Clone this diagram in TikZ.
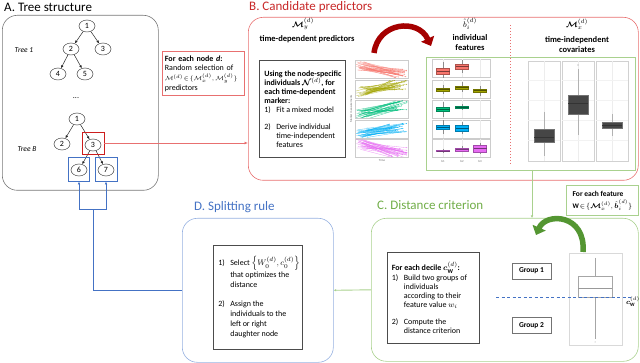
\documentclass[tikz,border=0pt]{standalone}
\usepackage{amsmath}
\usepackage{fontspec}
\setmainfont{Carlito}
\usetikzlibrary{arrows.meta,shapes.geometric}
\definecolor{boxgray}{RGB}{120,120,120}
\definecolor{boxred}{RGB}{232,112,112}
\definecolor{strongred}{RGB}{205,30,30}
\definecolor{titlered}{RGB}{200,40,40}
\definecolor{arrowred}{RGB}{165,0,0}
\definecolor{titlegreen}{RGB}{112,173,71}
\definecolor{boxgreen}{RGB}{169,209,142}
\definecolor{arrowgreen}{RGB}{84,150,50}
\definecolor{titleblue}{RGB}{68,114,196}
\definecolor{boxblue}{RGB}{150,177,225}
\definecolor{lineblue}{RGB}{68,114,196}
\definecolor{gA}{HTML}{F8766D}
\definecolor{gB}{HTML}{A3A500}
\definecolor{gC}{HTML}{00BF7D}
\definecolor{gD}{HTML}{00B0F6}
\definecolor{gE}{HTML}{E76BF3}
\definecolor{darkbox}{RGB}{70,70,70}
\newcommand{\numi}[1]{\makebox[1.5em][l]{#1}}
\newcommand{\hangi}{\hspace*{1.5em}}
\begin{document}
\begin{tikzpicture}[x=1pt,y=-1pt,
  title/.style={font=\fontsize{13}{15}\selectfont, anchor=base west, inner sep=0},
  tnode/.style={ellipse, draw=black!75, line width=0.5pt, minimum width=16pt, minimum height=12pt, inner sep=0, font=\fontsize{8}{9}\selectfont},
  tarrow/.style={draw=black!85, line width=0.5pt, -{Latex[length=3pt,width=2.6pt]}},
  panel/.style={rounded corners=15pt, line width=0.6pt, minimum width=#1, inner sep=0, anchor=north west},
  textbox/.style={draw=black!70, line width=0.6pt, anchor=north west, inner sep=0, align=left, font=\fontsize{8}{9}\selectfont},
  hdr/.style={font=\fontsize{8.5}{10}\selectfont\bfseries, align=center, inner sep=0},
  grp/.style={draw=black!55, line width=0.8pt, minimum width=39pt, minimum height=16pt, inner sep=0, font=\fontsize{7.5}{8}\selectfont\bfseries},
  tiny/.style={font=\fontsize{3}{3.5}\selectfont, text=black!60, inner sep=0}
]
\useasboundingbox (0,0) rectangle (640,363);

% ---------------- A. Tree structure ----------------
\node[title] (tA) at (4,12) {A. Tree structure};
\node[panel=156pt, draw=boxgray, minimum height=175pt] (Abox) at (2,15) {};
\node[font=\fontsize{7.5}{8}\selectfont\itshape] (lt1) at (24,50) {Tree 1};
\node[font=\fontsize{7.5}{8}\selectfont\itshape] (ltB) at (27,149) {Tree B};
\node[font=\fontsize{8}{8}\selectfont] (dots) at (76,98) {...};

\node[tnode] (a1) at (87,26) {1};
\node[tnode] (a2) at (71,49) {2};
\node[tnode] (a3) at (103,49) {3};
\node[tnode] (a4) at (58,74) {4};
\node[tnode] (a5) at (85,74) {5};
\draw[tarrow] (a1) -- (a2);
\draw[tarrow] (a1) -- (a3);
\draw[tarrow] (a2) -- (a4);
\draw[tarrow] (a2) -- (a5);

\node[tnode] (b1) at (77,119) {1};
\node[tnode] (b2) at (62,144) {2};
\node[tnode] (b3) at (93,145) {3};
\node[tnode] (b6) at (79,170) {6};
\node[tnode] (b7) at (106,170) {7};
\draw[tarrow] (b1) -- (b2);
\draw[tarrow] (b1) -- (b3);
\draw[tarrow] (b3) -- (b6);
\draw[tarrow] (b3) -- (b7);
\node[draw=strongred, line width=0.9pt, minimum width=22pt, minimum height=22pt, inner sep=0] (rb) at (93,143) {};
\node[draw=lineblue, line width=0.9pt, minimum width=21pt, minimum height=24pt, inner sep=0] (bb6) at (79,169) {};
\node[draw=lineblue, line width=0.9pt, minimum width=22pt, minimum height=24pt, inner sep=0] (bb7) at (106,169) {};

\node[draw=boxred, line width=0.8pt, anchor=north west, inner sep=2.5pt, align=left, text width=77pt, minimum height=44pt, font=\fontsize{8}{9.3}\selectfont] (selbox) at (162,51)
 {\textbf{For each node \textit{d}:}\\Random selection of\\[1pt]\mbox{\fontsize{6.5}{7}\selectfont$\mathcal{M}^{(d)}\!\in\!\{\mathcal{M}_x^{(d)},\mathcal{M}_y^{(d)}\}$}\\predictors};

% ---------------- B. Candidate predictors ----------------
\node[title, text=titlered] (tB) at (249,11) {B. Candidate predictors};
\node[panel=390pt, draw=boxred, minimum height=163pt] (Bbox) at (248,17) {};
\draw[boxred, line width=0.8pt, -{Latex[length=3.5pt,width=3pt]}] (rb.east) -- (rb.east -| Bbox.west);

\node[hdr] (hMy) at (303,24) {$\boldsymbol{\mathcal{M}}_y^{(d)}$};
\node[hdr] (hMy2) at (307,39) {time-dependent predictors};
\node[hdr] (hb) at (470,24) {$\hat{b}_i^{(d)}$};
\node[hdr] (hb2) at (470,43) {individual\\features};
\node[hdr] (hMx) at (577,24) {$\boldsymbol{\mathcal{M}}_x^{(d)}$};
\node[hdr] (hMx2) at (577,45) {time-independent\\covariates};
\draw[boxred, line width=0.7pt, dash pattern=on 1.5pt off 1.5pt] (510,25) -- (510,165);

\node[textbox, minimum width=86pt, minimum height=97pt] (tbB) at (259,60)
 {\hspace*{4pt}\begin{minipage}{80pt}\raggedright
 \textbf{Using the node-specific}\\
 \textbf{individuals $\boldsymbol{\mathcal{N}}^{(d)}$, for}\\
 \textbf{each time-dependent}\\
 \textbf{marker:}\\
 \numi{1)}Fit a mixed model\\[8pt]
 \numi{2)}Derive individual\\
 \hangi time-independent\\
 \hangi features
 \end{minipage}};

% curved red arrow
\draw[arrowred, line width=5.5pt, -{Triangle[length=8pt,width=14pt]}] (374,53) .. controls (378,22) and (418,18) .. (431,46);

% spaghetti plots
\pgfmathsetseed{11}
\foreach \tp/\col/\sa/\sb in {60/gA/0.3/0.75, 80/gB/0.65/0.3, 100/gC/0.8/0.3, 120/gD/0.7/0.45, 139/gE/0.3/0.75} {
  \draw[black!20, line width=0.4pt, fill=white] (355,\tp) rectangle (408,\tp+18);
  \begin{scope}
    \clip (355,\tp) rectangle (408,\tp+18);
    \foreach \i in {1,...,28} {
      \pgfmathsetmacro\ya{\tp+18*(\sa+0.28*rand)}
      \pgfmathsetmacro\yb{\tp+18*(\sb+0.28*rand)}
      \pgfmathsetmacro\xa{356+12*rnd}
      \pgfmathsetmacro\xb{407-18*rnd}
      \draw[\col, line width=0.3pt, opacity=0.75] (\xa,\ya) -- (\xb,\yb);
      \fill[\col, opacity=0.8] (\xb,\yb) circle (0.5pt);
    }
  \end{scope}
}
\node[tiny, rotate=90] (ylab) at (351,109) {Marker measurements};
\node[tiny] (xlab) at (382,160) {Time};

% feature and covariate box (green)
\draw[boxgreen, line width=0.9pt] (426,57) rectangle (635,170);

% individual feature boxplots
\foreach \tp in {59,80,100,120,139} {
  \draw[black!20, line width=0.4pt, fill=white] (432,\tp) rectangle (490,\tp+18);
  \foreach \xx in {443,462,480} \draw[black!8, line width=0.3pt] (\xx,\tp) -- (\xx,\tp+18);
}
\foreach \cx/\qa/\qb/\wa/\wb/\col in {
  443/68/74/62/78/gA, 462/64/69/60/73/gA,
  443/88/91/85/94/gB, 462/86/89/82/92/gB, 480/89/92/86/96/gB,
  443/107/111/102/117/gC, 462/106/108/104/110/gC,
  443/125/129/120/134/gD, 462/125/131/122/134/gD,
  443/150.5/151.5/149/153/gE, 462/148/151/146.5/152.5/gE, 480/145/152/143/154/gE} {
  \draw[black!45, line width=0.3pt] (\cx,\wa) -- (\cx,\wb);
  \draw[\col!70!black, line width=0.3pt, fill=\col] (\cx-6.5,\qa) rectangle (\cx+6.5,\qb);
  \draw[\col!50!black, line width=0.3pt] (\cx-6.5,{(\qa+\qb)/2}) -- (\cx+6.5,{(\qa+\qb)/2});
}
\node[tiny] (bl1) at (443,161) {b1};
\node[tiny] (bl2) at (462,161) {b2};
\node[tiny] (bl3) at (480,161) {b3};

% covariate boxplots
\foreach \xa/\xb in {528/560, 562/594, 596/628} {
  \draw[black!18, line width=0.5pt, fill=white] (\xa,61) rectangle (\xb,161);
  \draw[black!7, line width=0.3pt] ({(\xa+\xb)/2},61) -- ({(\xa+\xb)/2},161);
  \foreach \yy in {80,100,120,140} \draw[black!5, line width=0.3pt] (\xa,\yy) -- (\xb,\yy);
}
\foreach \cx/\qa/\qb/\md/\wa/\wb in {544/129/142/137/112/156, 578/95/114/103/69/135, 612/122/128/125/114/136} {
  \draw[black!30, line width=0.5pt] (\cx,\wa) -- (\cx,\wb);
  \draw[black!55, line width=0.4pt, fill=darkbox] (\cx-10,\qa) rectangle (\cx+10,\qb);
  \draw[black!80, line width=0.3pt] (\cx-10,\md) -- (\cx+10,\md);
}
\fill[black!40] (578,65) circle (0.6pt);

% ---------------- C. Distance criterion ----------------
\node[title, text=titlegreen] (tC) at (377,210) {C. Distance criterion};
\node[panel=267pt, draw=boxgreen, minimum height=143pt] (Cbox) at (371,218) {};
\coordinate (gsrc) at (532,170);
\draw[boxgreen, line width=0.9pt, -{Latex[length=2.5pt,width=2.5pt]}] (gsrc) -- (gsrc |- Cbox.north);

\node[draw=boxgreen, line width=0.9pt, anchor=north west, minimum width=72pt, minimum height=30pt, inner sep=2pt, align=left, font=\fontsize{7.5}{9}\selectfont] (featbox) at (566,185)
 {\textbf{For each feature}\\[3pt]\mbox{\fontsize{7}{8}\selectfont$\mathbf{W}\!\in\!\{\boldsymbol{\mathcal{M}}_x^{(d)},\hat{\boldsymbol{b}}_i^{(d)}\}$}};

\node[textbox, minimum width=92pt, minimum height=91pt] (tbC) at (387,252)
 {\hspace*{4pt}\begin{minipage}{87pt}\raggedright
 \textbf{For each decile $\boldsymbol{c}_{\mathbf{W}}^{(d)}$:}\\[1pt]
 \numi{1)}Build two groups of\\
 \hangi individuals\\
 \hangi according to their\\
 \hangi feature value $w_i$\\[8pt]
 \numi{2)}Compute the\\
 \hangi distance criterion
 \end{minipage}};

\node[grp] (g1) at (531.5,271) {Group 1};
\node[grp] (g2) at (531.5,325.5) {Group 2};

% boxplot in C
\draw[black!15, line width=0.5pt, fill=white] (569,253) rectangle (622,345);
\draw[black!35, line width=0.4pt] (595,258) -- (595,276);
\draw[black!35, line width=0.4pt] (595,297) -- (595,339);
\draw[black!35, line width=0.5pt, fill=white] (578,276) rectangle (612,297);
\draw[black!40, line width=0.6pt] (578,288) -- (612,288);
\fill[black!40] (595,342) circle (0.5pt);
\draw[lineblue, line width=0.9pt, dash pattern=on 3pt off 2.5pt] (496,297) -- (633,297);
\node[font=\fontsize{7}{8}\selectfont, inner sep=0] (cw) at (633,302) {$\boldsymbol{c}_{\mathbf{W}}^{(d)}$};

% curved green arrow
\draw[arrowgreen, line width=5.5pt, -{Triangle[length=8pt,width=14pt]}] (583,252) .. controls (586,214) and (546,212) .. (536,235);

% ---------------- D. Splitting rule ----------------
\node[title, text=titleblue] (tD) at (194,211) {D. Splitting rule};
\node[panel=151pt, draw=boxblue, minimum height=144pt] (Dbox) at (182,218) {};
\draw[boxgreen, line width=0.9pt, -{Latex[length=2.5pt,width=2.5pt]}] (Cbox.west) -- (Dbox.east);

\node[textbox, minimum width=89pt, minimum height=104pt] (tbD) at (213,245)
 {\hspace*{4pt}\begin{minipage}{83pt}\raggedright\fontsize{8}{10}\selectfont
 \numi{1)}Select $\left\{W_0^{(d)},c_0^{(d)}\right\}$\\
 \hangi that optimizes the\\
 \hangi distance\\[9pt]
 \numi{2)}Assign the\\
 \hangi individuals to the\\
 \hangi left or right\\
 \hangi daughter node
 \end{minipage}};

\coordinate (jc) at (93,209);
\draw[lineblue, line width=0.9pt] (Dbox.west) -| (jc);
\draw[lineblue, line width=0.9pt, -{Latex[length=3pt,width=2.6pt]}] (jc) -| (bb6.south);
\draw[lineblue, line width=0.9pt, -{Latex[length=3pt,width=2.6pt]}] (jc) -| (bb7.south);
\end{tikzpicture}
\end{document}
